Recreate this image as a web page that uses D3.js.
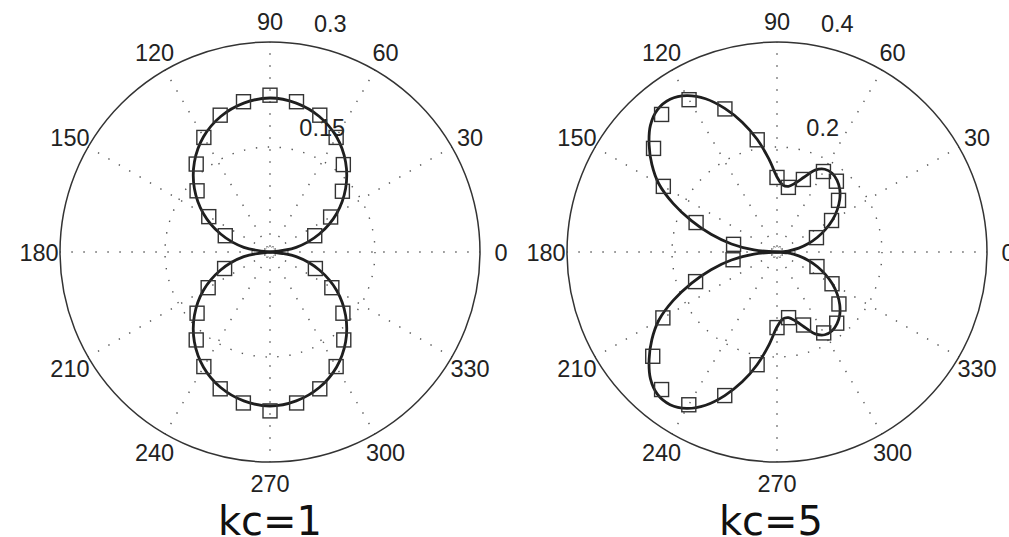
<!DOCTYPE html>
<html><head><meta charset="utf-8">
<script src="https://cdn.jsdelivr.net/npm/d3@7"></script>
<style>body{margin:0;background:#fff} svg{display:block}</style>
</head><body>
<svg id="chart" width="1009" height="537"></svg>
<script>
// ---------- data ----------
const angleTicks = [0,30,60,90,120,150,180,210,240,270,300,330];

// panel kc=1
const p1Title = "kc=1";
const p1Max = 0.3;
const p1RTicks = [0.15, 0.3];
const p1RTickLabels = ["0.15", "0.3"];
const p1LineAngles = [0,10,20,30,40,50,60,70,80,90,100,110,120,130,140,150,160,170,180,
                      190,200,210,220,230,240,250,260,270,280,290,300,310,320,330,340,350,360];
const p1LineR = [0,0.038,0.075,0.110,0.141,0.168,0.190,0.206,0.216,0.220,0.216,0.206,0.190,0.168,0.141,0.110,0.075,0.038,0,
                 0.038,0.075,0.110,0.141,0.168,0.190,0.206,0.216,0.220,0.216,0.206,0.190,0.168,0.141,0.110,0.075,0.038,0];
const p1MarkAngles = [20,30,40,50,60,70,80,90,100,110,120,130,140,150,160,
                      200,210,220,230,240,250,260,270,280,290,300,310,320,330,340];
const p1MarkR = [0.068,0.100,0.135,0.163,0.189,0.208,0.218,0.224,0.218,0.208,0.189,0.164,0.136,0.101,0.068,
                 0.069,0.102,0.136,0.164,0.189,0.208,0.219,0.227,0.219,0.208,0.189,0.164,0.136,0.102,0.069];

// panel kc=5
const p2Title = "kc=5";
const p2Max = 0.4;
const p2RTicks = [0.2, 0.4];
const p2RTickLabels = ["0.2", "0.4"];
const p2LineAngles = [0,5,10,15,20,25,30,35,40,45,50,55,60,65,70,75,80,85,90,95,100,105,110,115,120,125,130,135,140,145,150,155,160,165,170,175,180,
                      185,190,195,200,205,210,215,220,225,230,235,240,245,250,255,260,265,270,275,280,285,290,295,300,305,310,315,320,325,330,335,340,345,350,355,360];
const p2LineR = [0,0.021,0.042,0.062,0.082,0.102,0.122,0.140,0.156,0.169,0.178,0.183,0.182,0.172,0.152,0.136,0.127,0.128,0.143,0.178,0.218,0.256,0.291,0.322,0.344,0.355,0.354,0.341,0.318,0.291,0.260,0.218,0.173,0.130,0.088,0.044,0,
                 0.044,0.088,0.130,0.173,0.218,0.260,0.291,0.318,0.341,0.354,0.355,0.344,0.322,0.291,0.256,0.218,0.178,0.143,0.128,0.127,0.136,0.152,0.172,0.182,0.183,0.178,0.169,0.156,0.140,0.122,0.102,0.082,0.062,0.042,0.021,0];
const p2MarkAngles = [20,30,40,50,60,70,80,90,100,110,120,130,140,150,160,170,
                      190,200,210,220,230,240,250,260,270,280,290,300,310,320,330,340];
const p2MarkR = [0.080,0.120,0.153,0.176,0.177,0.147,0.125,0.142,0.217,0.290,0.335,0.342,0.307,0.250,0.164,0.084,
                 0.085,0.165,0.251,0.309,0.342,0.336,0.291,0.218,0.144,0.127,0.148,0.178,0.177,0.154,0.121,0.081];

// ---------- drawing ----------
const svg = d3.select("#chart");
const R = 210;

function drawPanel(cfg) {
  const g = svg.append("g").attr("transform", `translate(${cfg.cx},${cfg.cy})`);
  const r = d3.scaleLinear().domain([0, cfg.max]).range([0, R]);
  const ang = d3.scaleLinear().domain([0, 360]).range([0, 2 * Math.PI]);
  const px = (a, v) => r(v) * Math.cos(ang(a));
  const py = (a, v) => -r(v) * Math.sin(ang(a));

  // dotted spokes
  g.selectAll("line.spoke").data(angleTicks).join("line")
    .attr("class", "spoke")
    .attr("x1", a => px(a, cfg.max * 0.025)).attr("y1", a => py(a, cfg.max * 0.025))
    .attr("x2", a => px(a, cfg.max)).attr("y2", a => py(a, cfg.max))
    .attr("stroke", "#555").attr("stroke-width", 1.4)
    .attr("stroke-dasharray", "1.4 10.6");

  // dotted inner rings
  g.selectAll("circle.ring").data(cfg.rTicks.filter(t => t < cfg.max)).join("circle")
    .attr("class", "ring")
    .attr("r", t => r(t))
    .attr("fill", "none").attr("stroke", "#555").attr("stroke-width", 1.4)
    .attr("stroke-dasharray", "1.4 10.6");

  // tiny dotted circle at the origin
  g.append("circle").attr("r", 5)
    .attr("fill", "#fff").attr("stroke", "#888").attr("stroke-width", 1)
    .attr("stroke-dasharray", "1 2");

  // outer circle
  g.append("circle").attr("r", r(cfg.max))
    .attr("fill", "none").attr("stroke", "#333").attr("stroke-width", 1.5);

  // angle labels
  g.selectAll("text.alab").data(angleTicks).join("text")
    .attr("class", "alab")
    .attr("x", a => px(a, cfg.max * 1.1))
    .attr("y", a => py(a, cfg.max * 1.1) + 1)
    .attr("text-anchor", "middle").attr("dominant-baseline", "central")
    .attr("font-family", "'Liberation Sans', Arial, sans-serif")
    .attr("font-size", 23.5).attr("fill", "#222")
    .text(a => a);

  // radial tick labels
  const rinc = cfg.rTicks[0];
  g.selectAll("text.rlab").data(cfg.rTicks).join("text")
    .attr("class", "rlab")
    .attr("x", (t) => px(82, t + rinc / 20) + 14)
    .attr("y", (t) => py(82, t + rinc / 20) - 7)
    .attr("font-family", "'Liberation Sans', Arial, sans-serif")
    .attr("font-size", 23.5).attr("fill", "#222")
    .text((t, i) => cfg.rLabels[i]);

  // line: split into segments at the origin
  const pts = cfg.lineA.map((a, i) => ({a, v: cfg.lineR[i]}));
  const segs = [];
  let cur = [];
  pts.forEach((p) => {
    cur.push(p);
    if (p.v === 0 && cur.length > 1) { segs.push(cur); cur = [p]; }
  });
  if (cur.length > 1) segs.push(cur);
  const line = d3.line().x(d => px(d.a, d.v)).y(d => py(d.a, d.v))
    .curve(d3.curveCatmullRom.alpha(0.5));
  g.selectAll("path.curve").data(segs).join("path")
    .attr("class", "curve")
    .attr("d", line)
    .attr("fill", "none").attr("stroke", "#1e1e1e").attr("stroke-width", 2.8)
    .attr("stroke-linejoin", "round");

  // square markers
  const s = 14;
  g.selectAll("rect.mk").data(cfg.markA.map((a, i) => ({a, v: cfg.markR[i]}))).join("rect")
    .attr("class", "mk")
    .attr("x", d => px(d.a, d.v) - s / 2).attr("y", d => py(d.a, d.v) - s / 2)
    .attr("width", s).attr("height", s)
    .attr("fill", "none").attr("stroke", "#333").attr("stroke-width", 1.4);

  // title
  svg.append("text")
    .attr("x", cfg.titleX).attr("y", 535)
    .attr("text-anchor", "middle")
    .attr("font-family", "'DejaVu Sans', Verdana, sans-serif")
    .attr("font-size", 40).attr("fill", "#111")
    .text(cfg.title);
}

drawPanel({cx: 270, cy: 252, max: p1Max, rTicks: p1RTicks, rLabels: p1RTickLabels,
  lineA: p1LineAngles, lineR: p1LineR, markA: p1MarkAngles, markR: p1MarkR,
  title: p1Title, titleX: 270});
drawPanel({cx: 777, cy: 252, max: p2Max, rTicks: p2RTicks, rLabels: p2RTickLabels,
  lineA: p2LineAngles, lineR: p2LineR, markA: p2MarkAngles, markR: p2MarkR,
  title: p2Title, titleX: 771});
</script>
</body></html>
